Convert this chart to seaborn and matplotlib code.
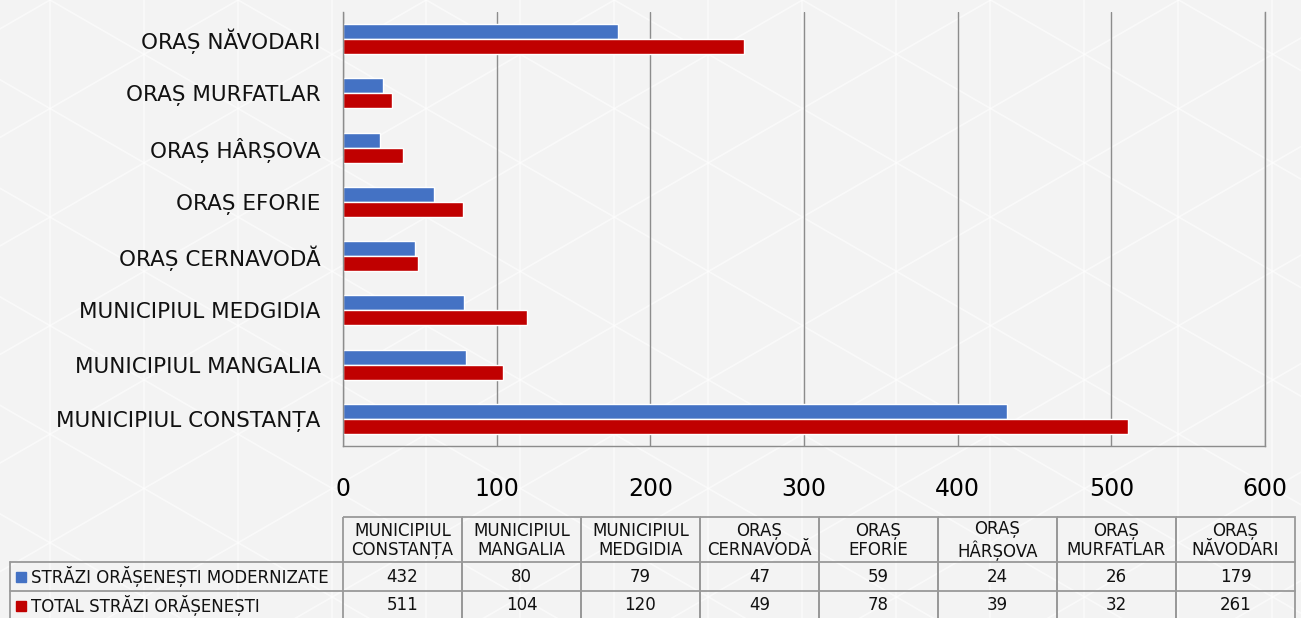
import numpy as np
import pandas as pd
import seaborn as sns
import matplotlib.pyplot as plt
from matplotlib.patches import Rectangle

# data
categories = ["MUNICIPIUL CONSTANȚA", "MUNICIPIUL MANGALIA", "MUNICIPIUL MEDGIDIA",
              "ORAȘ CERNAVODĂ", "ORAȘ EFORIE", "ORAȘ HÂRȘOVA", "ORAȘ MURFATLAR",
              "ORAȘ NĂVODARI"]
table_headers = ["MUNICIPIUL\nCONSTANȚA", "MUNICIPIUL\nMANGALIA", "MUNICIPIUL\nMEDGIDIA",
                 "ORAȘ\nCERNAVODĂ", "ORAȘ\nEFORIE", "ORAȘ\nHÂRȘOVA", "ORAȘ\nMURFATLAR",
                 "ORAȘ\nNĂVODARI"]
series_names = ["STRĂZI ORĂȘENEȘTI MODERNIZATE", "TOTAL STRĂZI ORĂȘENEȘTI"]
modernizate = [432, 80, 79, 47, 59, 24, 26, 179]
total = [511, 104, 120, 49, 78, 39, 32, 261]
colors = ["#4472C4", "#C00000"]
x_ticks = [0, 100, 200, 300, 400, 500, 600]

df = pd.DataFrame({
    "oras": categories * 2,
    "serie": [series_names[0]] * len(categories) + [series_names[1]] * len(categories),
    "valoare": modernizate + total,
})

sns.set_style("white")
plt.rcParams["font.family"] = ["DejaVu Sans"]

W, H = 1301, 618
fig = plt.figure(figsize=(W / 100, H / 100), dpi=100)
fig.patch.set_facecolor("#f3f3f3")

# faint triangle pattern in the background
bg = fig.add_axes([0, 0, 1, 1], zorder=-2)
bg.set_xlim(0, W)
bg.set_ylim(H, 0)
bg.axis("off")
d = 94.0
for k in range(-5, 20):
    bg.axvline(k * d + 50, color="white", lw=1.2, alpha=0.55)
xs = np.array([0, W])
for k in range(-30, 30):
    c = k * d / 0.866
    bg.plot(xs, 0.577 * (xs - 50) + c, color="white", lw=1.2, alpha=0.55)
    bg.plot(xs, -0.577 * (xs - 50) + c, color="white", lw=1.2, alpha=0.55)

# main bar chart
ax = fig.add_axes([343 / W, 1 - 446 / H, (1265 - 343) / W, (446 - 12) / H])
ax.patch.set_alpha(0)
sns.barplot(data=df, y="oras", x="valoare", hue="serie", order=categories[::-1],
            hue_order=series_names, palette=colors, orient="h", width=0.55,
            saturation=1, legend=False, ax=ax)
ax.set_xlim(0, 600)
ax.set_xticks(x_ticks)
ax.set_xlabel("")
ax.set_ylabel("")
ax.xaxis.grid(True, color="#8c8c8c", lw=1)
ax.set_axisbelow(True)
ax.tick_params(axis="x", length=0, pad=22, labelsize=17, labelcolor="black")
ax.tick_params(axis="y", length=0, pad=16, labelsize=15.5, labelcolor="#111111")
for side in ["left", "right", "bottom"]:
    ax.spines[side].set_color("#8c8c8c")
    ax.spines[side].set_linewidth(1)
ax.spines["top"].set_visible(False)

# data table below the chart
tb = fig.add_axes([0, 0, 1, 1], zorder=1)
tb.set_xlim(0, W)
tb.set_ylim(H, 0)
tb.axis("off")
x0, cw = 343, 119
y_head, y_r1, y_r2, y_r3 = 517, 562, 591, 620
lc = "#999999"
for i, head in enumerate(table_headers):
    cx = x0 + i * cw
    tb.add_patch(Rectangle((cx, y_head), cw, y_r3 - y_head, fill=False, ec=lc, lw=1.3))
    tb.text(cx + cw / 2, (y_head + y_r1) / 2 + 1, head, ha="center", va="center",
            fontsize=12, linespacing=1.1, color="#111111")
    tb.text(cx + cw / 2, (y_r1 + y_r2) / 2, str(modernizate[i]), ha="center",
            va="center", fontsize=12, color="#111111")
    tb.text(cx + cw / 2, (y_r2 + y_r3) / 2, str(total[i]), ha="center",
            va="center", fontsize=12, color="#111111")
for y in [y_r1, y_r2]:
    tb.plot([10, x0 + 8 * cw], [y, y], color=lc, lw=1.3)
tb.plot([10, 10], [y_r1, y_r3], color=lc, lw=1.3)
for j, (name, col) in enumerate(zip(series_names, colors)):
    ytop = [y_r1, y_r2][j]
    yc = ytop + 14.5
    tb.add_patch(Rectangle((16, yc - 5), 10, 10, color=col))
    tb.text(31, yc, name, ha="left", va="center", fontsize=12, color="#111111")

fig.savefig("out.png", dpi=100, facecolor=fig.get_facecolor())
